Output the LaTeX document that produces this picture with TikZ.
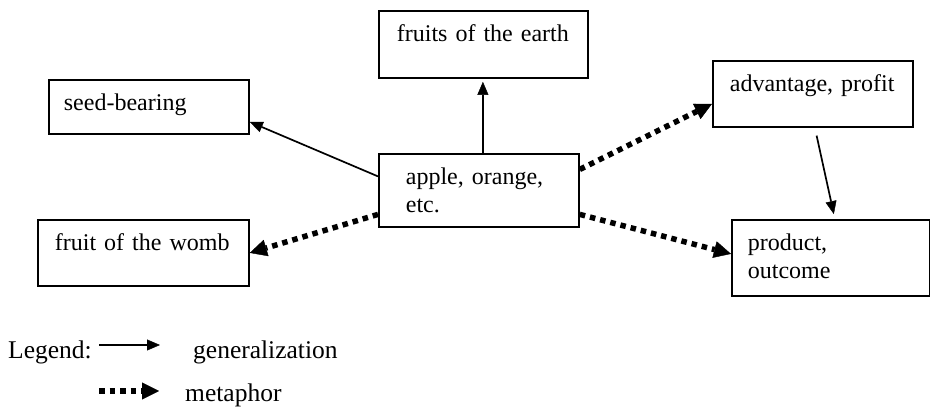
\documentclass[tikz,border=0pt]{standalone}
\usepackage{fontspec}
\setmainfont{Liberation Serif}
\usetikzlibrary{arrows.meta}
\newcommand{\boxFont}{\fontsize{24}{28}\selectfont}
\newcommand{\legendFont}{\fontsize{25.5}{30}\selectfont}
\newcommand{\boxLine}{1.8pt}

\begin{document}
\begin{tikzpicture}[x=1pt, y=-1pt,
  concept/.style={draw, line width=\boxLine, anchor=north west, align=left,
    inner ysep=0pt, text height=31pt, font=\boxFont},
  gen/.style={-{Triangle[length=13pt,width=11pt,line width=0.4pt]}, line width=1.7pt},
  meta/.style={-{Triangle[length=17pt,width=17pt,line width=0.4pt]}, line width=5.5pt,
    dash pattern=on 5.5pt off 5pt},
  legendtext/.style={anchor=base west, inner sep=0pt, font=\legendFont}]
\useasboundingbox (0,0) rectangle (930,411);

\node[concept, text width=173pt, inner xsep=18pt, text depth=36pt] (earth) at (378,10) {fruits of the earth};
\node[concept, text width=170pt, inner xsep=15pt, text depth=23pt] (seed) at (48,79) {seed-bearing};
\node[concept, text width=146pt, inner xsep=27pt, text depth=42pt] (apple) at (378,153) {apple, orange,\\etc.};
\node[concept, text width=177pt, inner xsep=17pt, text depth=35pt] (womb) at (37,219) {fruit of the womb};
\node[concept, text width=166pt, inner xsep=17pt, text depth=35pt] (adv) at (712,60) {advantage, profit};
\node[concept, text width=166pt, inner xsep=16pt, text depth=45pt] (prod) at (731,219) {product,\\outcome};

\draw[gen, shorten >=3pt] ([xshift=-0.5pt]apple.north -| earth.south) -- ([xshift=-0.5pt]earth.south);
\draw[gen] ([yshift=14pt]apple.west) -- ([yshift=-15pt]seed.east);
\draw[meta] ([yshift=-24pt]apple.west) -- (womb.east);
\draw[meta] ([yshift=21pt]apple.east) -- ([yshift=-10pt]adv.west);
\draw[meta] ([yshift=-24pt]apple.east) -- ([yshift=4pt]prod.west);
\draw[gen, shorten <=8pt, shorten >=5pt] ([xshift=2pt]adv.south) -- ([xshift=4pt]prod.north);

\node[legendtext] (legend) at (8,359) {Legend:};
\coordinate (genstart) at (99,345);
\coordinate (genend) at (160,345);
\draw[gen] (genstart) -- (genend);
\node[legendtext] (gentext) at (193,359) {generalization};
\coordinate (metastart) at (99,391);
\coordinate (metaend) at (159,391);
\draw[meta] (metastart) -- (metaend);
\node[legendtext] (metatext) at (185,402) {metaphor};
\end{tikzpicture}
\end{document}
